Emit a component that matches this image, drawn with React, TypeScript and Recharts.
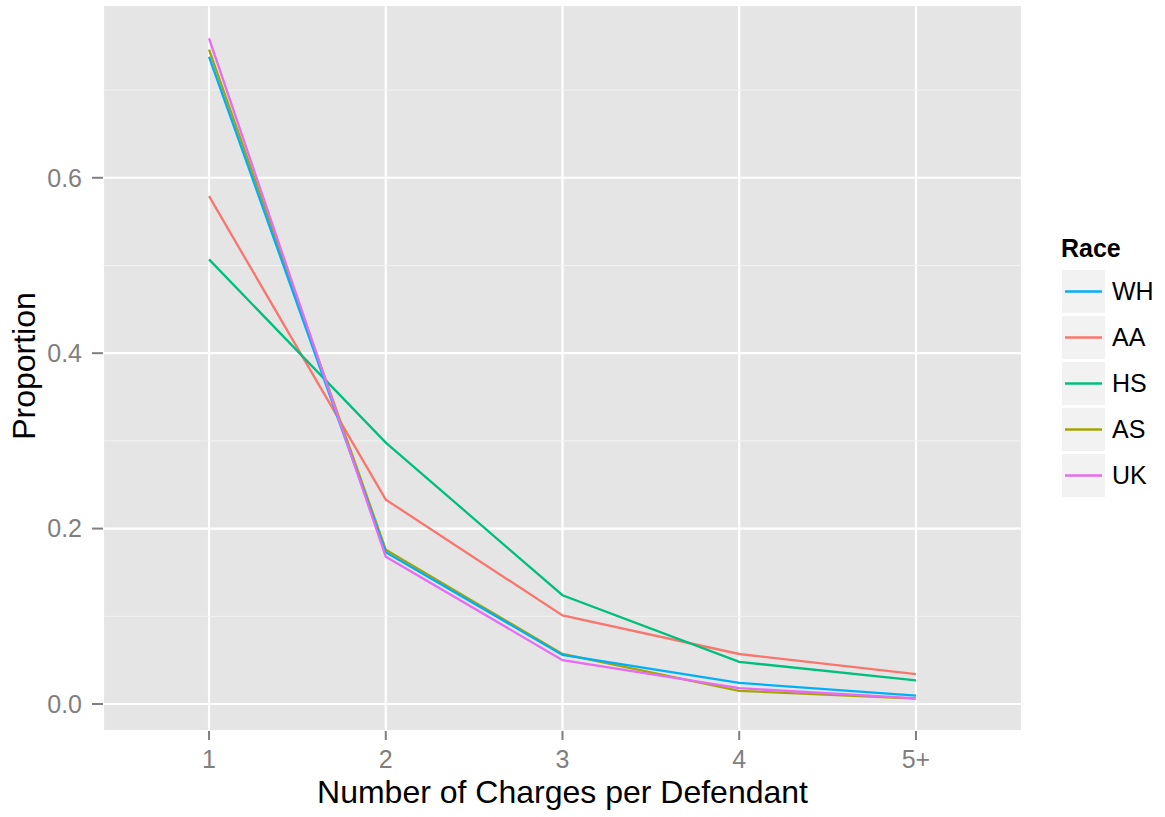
import { LineChart, Line, XAxis, YAxis, CartesianGrid, ReferenceLine } from "recharts";

const CATEGORIES = ["1", "2", "3", "4", "5+"];

// proportions, one array per race
const WH = [0.738, 0.173, 0.056, 0.024, 0.0095];
const AA = [0.579, 0.233, 0.101, 0.057, 0.034];
const HS = [0.507, 0.298, 0.124, 0.048, 0.027];
const AS = [0.746, 0.176, 0.057, 0.015, 0.006];
const UK = [0.759, 0.168, 0.05, 0.018, 0.0065];

const Y_TICKS = [0, 0.2, 0.4, 0.6];
const Y_MINOR = [0.1, 0.3, 0.5, 0.7];

const FONT = '"Liberation Sans", Arial, Helvetica, sans-serif';

// legend order and colours as in the reference
const SERIES = [
    { key: "WH", color: "#00B0F6" },
    { key: "AA", color: "#F8766D" },
    { key: "HS", color: "#00BF7D" },
    { key: "AS", color: "#A3A500" },
    { key: "UK", color: "#E76BF3" },
];
// draw order (last one ends up on top)
const DRAW_ORDER = ["AA", "AS", "HS", "WH", "UK"];

const data = CATEGORIES.map((c, i) => ({
    x: i + 1,
    label: c,
    WH: WH[i],
    AA: AA[i],
    HS: HS[i],
    AS: AS[i],
    UK: UK[i],
}));

const colorOf = (k: string) => SERIES.find((s) => s.key === k)?.color ?? "#000";

export default function App() {
    return (
        <div style={{ position: "absolute", left: 0, top: 0, width: 1165, height: 817, background: "#fff", fontFamily: FONT }}>
            <LineChart width={1165} height={817} data={data} margin={{ top: 5, right: 143, bottom: 0, left: 0 }}>
                <CartesianGrid fill="#E5E5E5" stroke="#FFFFFF" strokeWidth={2.2} />
                {Y_MINOR.map((v) => (
                    <ReferenceLine key={v} y={v} stroke="#F2F2F2" strokeWidth={1} />
                ))}
                <XAxis
                    type="number"
                    dataKey="x"
                    domain={[0.4, 5.6]}
                    ticks={[1, 2, 3, 4, 5]}
                    tickFormatter={(v: number) => CATEGORIES[v - 1] ?? ""}
                    height={86}
                    axisLine={false}
                    tickSize={9}
                    tickMargin={10}
                    tickLine={{ stroke: "#7F7F7F", strokeWidth: 2 }}
                    tick={{ fill: "#7F7F7F", fontSize: 25, fontFamily: FONT }}
                    interval={0}
                />
                <YAxis
                    type="number"
                    domain={[-0.0308, 0.797]}
                    ticks={Y_TICKS}
                    tickFormatter={(v: number) => v.toFixed(1)}
                    width={103}
                    axisLine={false}
                    tickSize={11}
                    tickMargin={10}
                    tickLine={{ stroke: "#7F7F7F", strokeWidth: 2 }}
                    tick={{ fill: "#7F7F7F", fontSize: 25, fontFamily: FONT }}
                    allowDataOverflow
                    interval={0}
                />
                {DRAW_ORDER.map((k) => (
                    <Line
                        key={k}
                        type="linear"
                        dataKey={k}
                        stroke={colorOf(k)}
                        strokeWidth={2.3}
                        dot={false}
                        activeDot={false}
                        isAnimationActive={false}
                    />
                ))}
            </LineChart>

            {/* axis titles and legend */}
            <svg width={1165} height={817} style={{ position: "absolute", left: 0, top: 0, pointerEvents: "none" }}>
                <text x={562.5} y={803} textAnchor="middle" fontSize={32} fontFamily={FONT} fill="#000">
                    Number of Charges per Defendant
                </text>
                <text
                    x={35}
                    y={366}
                    textAnchor="middle"
                    fontSize={32}
                    fontFamily={FONT}
                    fill="#000"
                    transform="rotate(-90 35 366)"
                >
                    Proportion
                </text>

                <text x={1061} y={257} fontSize={25} fontWeight="bold" fontFamily={FONT} fill="#000">
                    Race
                </text>
                {SERIES.map((s, i) => {
                    const top = 270 + i * 46;
                    return (
                        <g key={s.key}>
                            <rect x={1062} y={top} width={43} height={43} fill="#F2F2F2" />
                            <line x1={1065} x2={1102} y1={top + 21.5} y2={top + 21.5} stroke={s.color} strokeWidth={2.5} />
                            <text x={1112} y={top + 21.5} dy="0.355em" fontSize={25} fontFamily={FONT} fill="#000">
                                {s.key}
                            </text>
                        </g>
                    );
                })}
            </svg>
        </div>
    );
}
